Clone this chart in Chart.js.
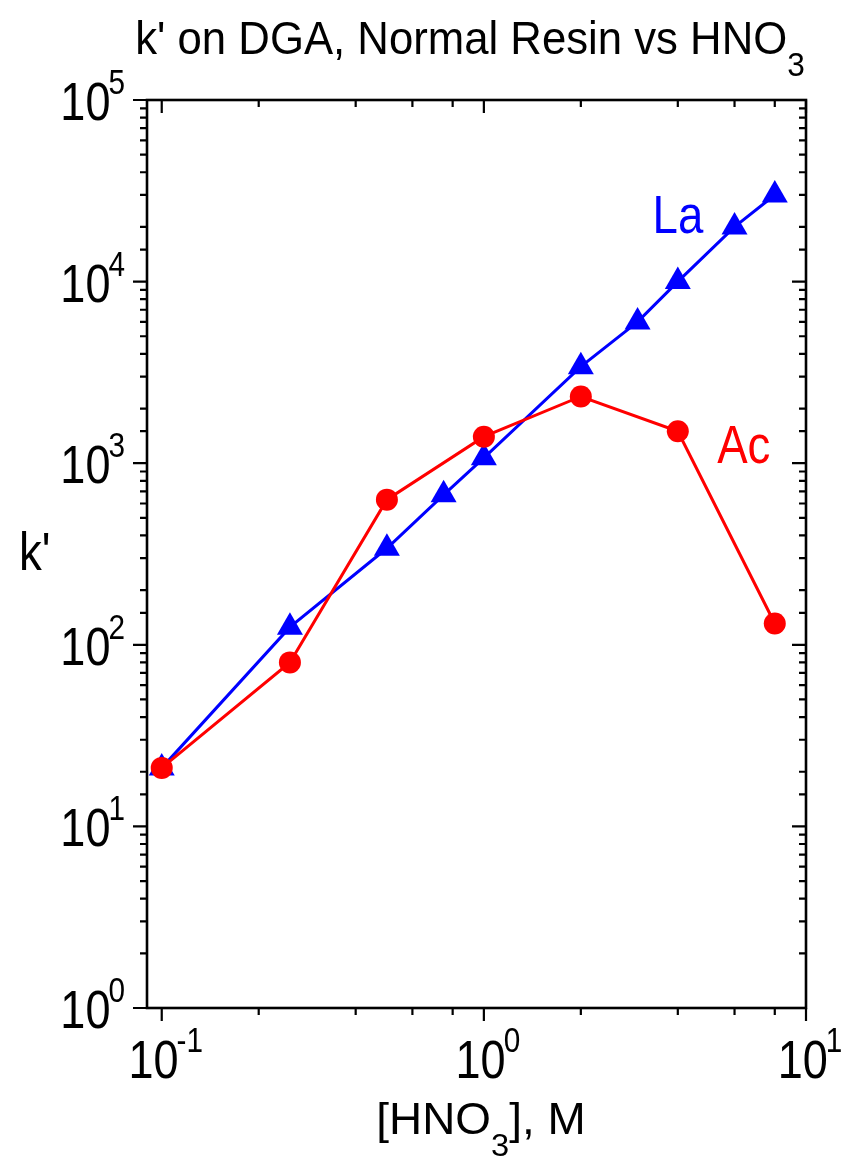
<!DOCTYPE html>
<html>
<head>
<meta charset="utf-8">
<script src="https://cdn.jsdelivr.net/npm/chart.js@4/dist/chart.umd.min.js"></script>
<style>
    body { margin: 0; background: #fff; }
    #wrap { width: 846px; height: 1158px; position: relative; }
</style>
</head>
<body>
<div id="wrap"><canvas id="ChartKprime"></canvas></div>
<script>
// data
const AcHNO3 = [0.1, 0.25, 0.5, 1, 2, 4, 8];
const AcK = [21, 80, 630, 1400, 2330, 1500, 131];
const LaHNO3 = [0.1, 0.25, 0.5, 0.75, 1, 2, 3, 4, 6, 8];
const LaK = [21, 125, 340, 670, 1070, 3400, 6000, 10000, 20000, 30000];

// decade tick labels (exponents of 10)
const XTickExp = [-1, 0, 1];
const YTickExp = [0, 1, 2, 3, 4, 5];

const TitleText = "k' on DGA, Normal Resin vs HNO";
const XTitleText = "[HNO";
const XTitleTail = "], M";
const YTitleText = "k'";

const FONT = '"Liberation Sans", sans-serif';

// horizontal squeeze per text, the original uses a condensed face
const SqTick = 0.85;
const SqTitle = 0.93;
const SqXTitle = 1.02;
const SqLabel = 0.86;

const TextW = (ctx, txt, sq) => ctx.measureText(txt).width * sq;

const FillSq = (ctx, txt, x, y, sq) => {
    ctx.save();
    ctx.translate(x, y);
    ctx.scale(sq, 1);
    ctx.fillText(txt, 0, 0);
    ctx.restore();
};

const toPoints = (xs, ys) => xs.map((x, i) => ({ x: x, y: ys[i] }));

// draws 10 with a raised exponent, cy = middle of the "10"
const DrawPow = (ctx, exp, x, cy, align) => {
    ctx.font = '53px ' + FONT;
    const w1 = TextW(ctx, '10', SqTick);
    ctx.font = '35px ' + FONT;
    const e = String(exp);
    const w2 = TextW(ctx, e, SqTick);
    const total = w1 + w2 - 2;
    const left = align === 'right' ? x - total : x - total / 2;
    const base = cy + 19;
    ctx.textAlign = 'left';
    ctx.textBaseline = 'alphabetic';
    ctx.font = '53px ' + FONT;
    FillSq(ctx, '10', left, base, SqTick);
    ctx.font = '35px ' + FONT;
    FillSq(ctx, e, left + w1 - 2, base - 26, SqTick);
};

// text with a subscript 3, cx = centre of whole string
const DrawSub = (ctx, head, tail, cx, base, size, subSize, sq) => {
    ctx.textAlign = 'left';
    ctx.textBaseline = 'alphabetic';
    ctx.font = size + 'px ' + FONT;
    const w1 = TextW(ctx, head, sq);
    const w3 = TextW(ctx, tail, sq);
    ctx.font = subSize + 'px ' + FONT;
    const w2 = TextW(ctx, '3', sq);
    const left = cx - (w1 + w2 + w3) / 2;
    ctx.font = size + 'px ' + FONT;
    FillSq(ctx, head, left, base, sq);
    ctx.font = subSize + 'px ' + FONT;
    FillSq(ctx, '3', left + w1, base + 22, sq);
    ctx.font = size + 'px ' + FONT;
    FillSq(ctx, tail, left + w1 + w2, base, sq);
};

const isDecade = (v) => Math.abs(Math.log10(v) - Math.round(Math.log10(v))) < 1e-6;

const FramePlugin = {
    id: 'frame',
    afterDraw(chart) {
        const ctx = chart.ctx;
        const a = chart.chartArea;
        const xs = chart.scales.x;
        const ys = chart.scales.y;
        ctx.save();
        ctx.strokeStyle = '#000';
        ctx.fillStyle = '#000';
        ctx.lineWidth = 2.6;
        ctx.strokeRect(a.left, a.top, a.right - a.left, a.bottom - a.top);

        ctx.lineWidth = 2.2;
        ctx.beginPath();
        xs.ticks.forEach(t => {
            if (t.value < xs.min - 1e-9 || t.value > xs.max + 1e-9) return;
            const px = xs.getPixelForValue(t.value);
            const major = isDecade(t.value);
            ctx.moveTo(px, a.bottom);
            ctx.lineTo(px, a.bottom + (major ? 13 : 7));
            ctx.moveTo(px, a.top);
            ctx.lineTo(px, a.top + (major ? 13 : 7));
        });
        ys.ticks.forEach(t => {
            if (t.value < ys.min - 1e-9 || t.value > ys.max + 1e-9) return;
            const py = ys.getPixelForValue(t.value);
            const major = isDecade(t.value);
            ctx.moveTo(a.left, py);
            ctx.lineTo(a.left - (major ? 14 : 7), py);
            ctx.moveTo(a.right, py);
            ctx.lineTo(a.right - (major ? 14 : 7), py);
        });
        ctx.stroke();

        XTickExp.forEach(e => {
            DrawPow(ctx, e, xs.getPixelForValue(Math.pow(10, e)) + 4, 1059, 'center');
        });
        YTickExp.forEach(e => {
            DrawPow(ctx, e, 125, ys.getPixelForValue(Math.pow(10, e)) + 1, 'right');
        });

        DrawSub(ctx, TitleText, '', 470, 54, 47, 34, SqTitle);
        DrawSub(ctx, XTitleText, XTitleTail, 481, 1134, 45, 32, SqXTitle);

        ctx.textAlign = 'left';
        ctx.textBaseline = 'alphabetic';
        ctx.font = '53px ' + FONT;
        FillSq(ctx, YTitleText, 19, 570, SqLabel);

        // series labels
        ctx.fillStyle = '#0000ff';
        FillSq(ctx, 'La', xs.getPixelForValue(3.34), ys.getPixelForValue(18500), SqLabel);
        ctx.fillStyle = '#ff0000';
        FillSq(ctx, 'Ac', xs.getPixelForValue(5.3), ys.getPixelForValue(1000), SqLabel);
        ctx.restore();
    }
};

const ctxKprime = document.getElementById('ChartKprime');
const ChartKprime = new Chart(ctxKprime, {
    type: 'line',
    data: {
        datasets: [{
            label: 'Ac',
            data: toPoints(AcHNO3, AcK),
            borderColor: '#ff0000',
            backgroundColor: '#ff0000',
            borderWidth: 3,
            pointStyle: 'circle',
            pointRadius: 11,
            pointBorderWidth: 0,
            tension: 0
        }, {
            label: 'La',
            data: toPoints(LaHNO3, LaK),
            borderColor: '#0000ff',
            backgroundColor: '#0000ff',
            borderWidth: 3,
            pointStyle: 'triangle',
            pointRadius: 15,
            pointBorderWidth: 0,
            tension: 0
        }]
    },
    options: {
        responsive: true,
        maintainAspectRatio: false,
        animation: false,
        layout: {
            padding: { left: 147, right: 40, top: 100, bottom: 150 }
        },
        plugins: {
            legend: { display: false },
            tooltip: { enabled: false }
        },
        scales: {
            x: {
                type: 'logarithmic',
                min: 0.09,
                max: 10,
                display: false
            },
            y: {
                type: 'logarithmic',
                min: 1,
                max: 100000,
                display: false
            }
        }
    },
    plugins: [FramePlugin]
});
</script>
</body>
</html>
